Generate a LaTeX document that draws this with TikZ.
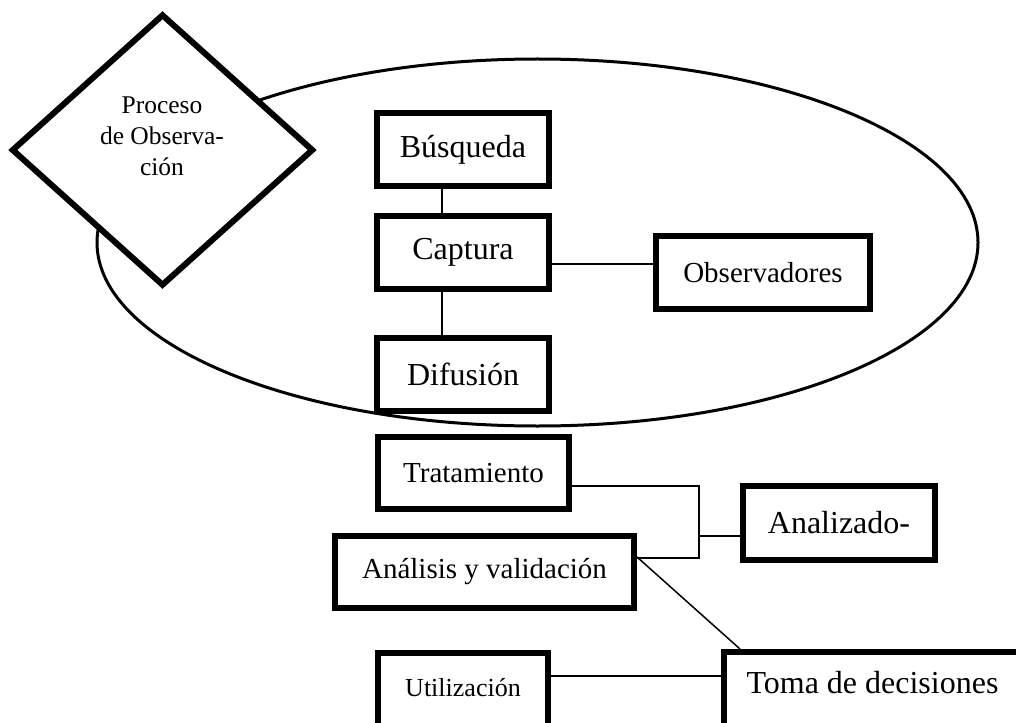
\documentclass[tikz,border=0pt]{standalone}
\usepackage{fontspec}
\setmainfont{Liberation Serif}
\usetikzlibrary{shapes.geometric}
\tikzset{
  caja/.style={draw, line width=6pt, fill=white, inner sep=0pt, align=center},
  enlace/.style={draw, line width=1.5pt},
}
\begin{document}
\begin{tikzpicture}[x=1pt,y=-1pt]
      \useasboundingbox (0,0) rectangle (1016,722);
      % zona de observacion
      \draw[line width=3pt] (537.5,242.5) ellipse [x radius=440.5pt, y radius=183.5pt];
      \def \Cajas{
        busqueda/463/149.5/172/73/32/Búsqueda,
        captura/463/252.5/172/73/32/Captura,
        difusion/463/374.5/172/73/32/Difusión,
        observadores/763/272.5/214/73/29/Observadores,
        tratamiento/473.5/473/191/72/29/Tratamiento,
        analisis/484.5/572/299/72/29/Análisis y validación,
        analizado/839/523/192/74/32/Analizado-}
      \foreach \id / \x / \y / \w / \h / \fs / \txt in \Cajas{
        \node[caja, minimum width=\w pt, minimum height=\h pt,
          font=\fontsize{\fs}{\fs}\selectfont] (\id) at (\x, \y) {\txt};
      }
      % cajas cortadas por el borde
      \node[caja, anchor=north, minimum width=170pt, inner ysep=10pt,
        text height=33pt, text depth=29pt,
        font=\fontsize{26}{26}\selectfont] (utilizacion) at (463,650) {Utilización};
      \node[caja, anchor=north west, minimum width=297pt, inner ysep=10pt,
        text height=31pt, text depth=32pt,
        font=\fontsize{32}{32}\selectfont] (toma) at (721,649) {Toma de decisiones};
      % rombo
      \node[diamond, draw, line width=6pt, fill=white, inner sep=0pt,
        minimum width=302pt, minimum height=272pt] (proceso) at (162.5,150) {};
      \node[align=center, font=\fontsize{25.5}{31}\selectfont] (procesotxt)
        at (162,136) {Proceso\\de Observa-\\ción};
      % enlaces
      \path[enlace] ([xshift=-21pt]busqueda.south) -- ([xshift=-21pt]captura.north);
      \path[enlace] ([xshift=-21pt]captura.south) -- ([xshift=-21pt]difusion.north);
      \path[enlace] ([yshift=-11.5pt]captura.east) -- ([yshift=-11.5pt]captura.east -| observadores.west);
      \coordinate (junta) at (699,536);
      \path[enlace] ([yshift=-13pt]tratamiento.east) -| (junta) |- ([yshift=14pt]analisis.east);
      \path[enlace] (junta) -- (junta -| analizado.west);
      \path[enlace] ([yshift=15pt]analisis.east) -- ([xshift=19pt]toma.north west);
      \path[enlace] ([yshift=18pt]utilizacion.east) -- ([yshift=18pt]utilizacion.east -| toma.west);
    \end{tikzpicture}
\end{document}
